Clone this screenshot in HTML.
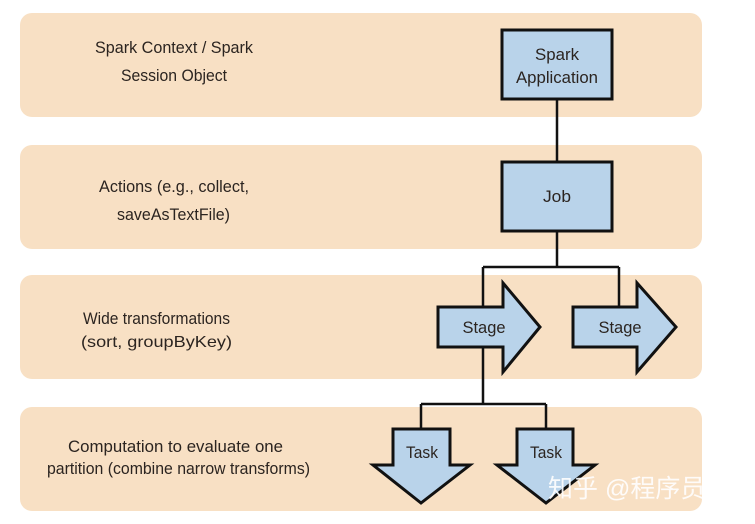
<!DOCTYPE html>
<html><head><meta charset="utf-8"><style>
html,body{margin:0;padding:0;background:#fff;}
svg{display:block;}
text{font-family:"Liberation Sans","Noto Sans CJK SC",sans-serif;fill:#2b2420;}
</style></head><body>
<svg width="755" height="524" viewBox="0 0 755 524" xmlns="http://www.w3.org/2000/svg">
<g fill="#f8e0c4">
<rect x="20" y="13" width="682" height="104" rx="12"/>
<rect x="20" y="145" width="682" height="104" rx="12"/>
<rect x="20" y="275" width="682" height="104" rx="12"/>
<rect x="20" y="407" width="682" height="104" rx="12"/>
</g>
<g font-size="17">
<text x="95" y="53" textLength="158" lengthAdjust="spacingAndGlyphs">Spark Context / Spark</text>
<text x="121" y="81" textLength="106" lengthAdjust="spacingAndGlyphs">Session Object</text>
<text x="99" y="192" textLength="150" lengthAdjust="spacingAndGlyphs">Actions (e.g., collect,</text>
<text x="117" y="220" textLength="113" lengthAdjust="spacingAndGlyphs">saveAsTextFile)</text>
<text x="83" y="324" textLength="147" lengthAdjust="spacingAndGlyphs">Wide transformations</text>
<text x="81" y="347" font-size="16" textLength="151" lengthAdjust="spacingAndGlyphs">(sort, groupByKey)</text>
<text x="68" y="452" textLength="215" lengthAdjust="spacingAndGlyphs">Computation to evaluate one</text>
<text x="47" y="474" textLength="263" lengthAdjust="spacingAndGlyphs">partition (combine narrow transforms)</text>
</g>
<g stroke="#111" stroke-width="2.5" fill="none">
<path d="M557 99V162M557 231V267M483 267H619M483 267V307M619 267V307M483 347V404M421 404H546M421 404V429M546 404V429"/>
</g>
<g fill="#b9d3ea" stroke="#111" stroke-width="3" stroke-linejoin="miter">
<rect x="502" y="30" width="110" height="69"/>
<rect x="502" y="162" width="110" height="69"/>
<path d="M438 307H503V283L540 327L503 372V347H438Z"/>
<path d="M573 307H637V283L676 327L637 372V347H573Z"/>
<path d="M393 429H450V465H470L421 503L373 465H393Z"/>
<path d="M517 429H573V465H595L546 503L497 465H517Z"/>
</g>
<g font-size="17" text-anchor="middle">
<text x="557" y="60" textLength="44" lengthAdjust="spacingAndGlyphs">Spark</text>
<text x="557" y="83" textLength="82" lengthAdjust="spacingAndGlyphs">Application</text>
<text x="557" y="202" textLength="28" lengthAdjust="spacingAndGlyphs">Job</text>
<text x="484" y="333" textLength="43" lengthAdjust="spacingAndGlyphs">Stage</text>
<text x="620" y="333" textLength="43" lengthAdjust="spacingAndGlyphs">Stage</text>
<text x="422" y="458" textLength="32" lengthAdjust="spacingAndGlyphs">Task</text>
<text x="546" y="458" textLength="32" lengthAdjust="spacingAndGlyphs">Task</text>
</g>
<text x="548" y="497" font-size="25" style="fill:#ffffff;opacity:0.9">知乎 @程序员赤小</text>
</svg>
</body></html>
